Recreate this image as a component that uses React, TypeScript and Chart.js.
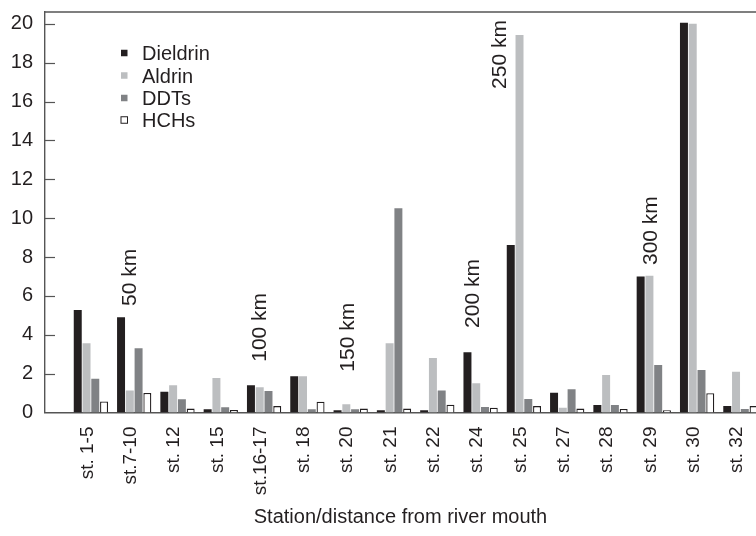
import React, { useEffect, useRef } from "react";
import { Chart, registerables } from "chart.js";

Chart.register(...registerables);

const stations = ["st. 1-5", "st.7-10", "st. 12", "st. 15", "st.16-17", "st. 18", "st. 20", "st. 21", "st. 22", "st. 24", "st. 25", "st. 27", "st. 28", "st. 29", "st. 30", "st. 32"];
const dieldrin = [5.27, 4.9, 1.07, 0.17, 1.4, 1.87, 0.12, 0.12, 0.12, 3.1, 8.62, 1.02, 0.38, 7.0, 20.06, 0.33];
const aldrin = [3.57, 1.13, 1.4, 1.77, 1.3, 1.87, 0.43, 3.57, 2.8, 1.5, 19.43, 0.25, 1.93, 7.04, 20.0, 2.1];
const ddts = [1.74, 3.3, 0.68, 0.27, 1.1, 0.17, 0.17, 10.51, 1.13, 0.28, 0.7, 1.2, 0.38, 2.44, 2.19, 0.18];
const hchs = [0.57, 1.0, 0.2, 0.13, 0.33, 0.55, 0.2, 0.2, 0.4, 0.25, 0.33, 0.2, 0.18, 0.12, 0.99, 0.33];
const seriesNames = ["Dieldrin", "Aldrin", "DDTs", "HCHs"];
const yTicks = [0, 2, 4, 6, 8, 10, 12, 14, 16, 18, 20];

// distance annotations: text, position along station axis, value where the text starts
const distLabels = ["50 km", "100 km", "150 km", "200 km", "250 km", "300 km"];
const distPos = [0.9, 3.9, 5.94, 8.82, 9.45, 12.93];
const distBase = [5.48, 2.61, 2.1, 4.35, 16.65, 7.59];

const INK = "#231f20";
const AXIS = "#555555";
const FONT = "'Liberation Sans', Arial, sans-serif";

const framePlugin = {
  id: "frame",
  afterDraw(chart: any) {
    const { ctx, chartArea, scales } = chart;
    const y = scales.y;
    const x = scales.x;
    ctx.save();
    ctx.strokeStyle = AXIS;
    ctx.lineWidth = 1.4;
    ctx.beginPath();
    ctx.moveTo(chartArea.left, chartArea.top);
    ctx.lineTo(chartArea.right, chartArea.top);
    ctx.stroke();
    ctx.lineWidth = 1.2;
    yTicks.forEach((v) => {
      if (v === 0) return;
      const py = Math.round(y.getPixelForValue(v)) + 0.5;
      ctx.beginPath();
      ctx.moveTo(chartArea.left, py);
      ctx.lineTo(chartArea.left + 10, py);
      ctx.stroke();
    });
    // distance annotations
    ctx.fillStyle = INK;
    ctx.font = "21px " + FONT;
    ctx.textAlign = "left";
    ctx.textBaseline = "middle";
    distLabels.forEach((t, i) => {
      const px = x.getPixelForValue(distPos[i]);
      const py = y.getPixelForValue(distBase[i]);
      ctx.save();
      ctx.translate(px, py);
      ctx.rotate(-Math.PI / 2);
      ctx.fillText(t, 0, 0);
      ctx.restore();
    });
    // legend
    const rowY = [53, 75.5, 98, 120];
    ctx.font = "20px " + FONT;
    chart.data.datasets.forEach((ds: any, i: number) => {
      const cy = rowY[i];
      ctx.fillStyle = ds.backgroundColor;
      ctx.fillRect(121, cy - 3.25, 6.5, 6.5);
      if (ds.borderWidth) {
        ctx.strokeStyle = INK;
        ctx.lineWidth = 1;
        ctx.strokeRect(121, cy - 3.25, 6.5, 6.5);
      }
      ctx.fillStyle = INK;
      ctx.fillText(ds.label, 142, cy + 1.5);
    });
    ctx.restore();
  },
};

export default function App() {
  const ref = useRef<HTMLCanvasElement>(null);
  useEffect(() => {
    if (!ref.current) return;
    const mk = (arr: number[]) => arr.map((v, i) => ({ x: i, y: v }));
    const chart = new Chart(ref.current, {
      type: "bar",
      data: {
        datasets: [
          { label: seriesNames[0], data: mk(dieldrin), backgroundColor: "#231f20", borderWidth: 0 },
          { label: seriesNames[1], data: mk(aldrin), backgroundColor: "#bcbec0", borderWidth: 0 },
          { label: seriesNames[2], data: mk(ddts), backgroundColor: "#808285", borderWidth: 0 },
          { label: seriesNames[3], data: mk(hchs), backgroundColor: "#ffffff", borderColor: INK, borderWidth: 1.3 },
        ],
      },
      options: {
        animation: false,
        responsive: false,
        maintainAspectRatio: false,
        datasets: { bar: { categoryPercentage: 0.81, barPercentage: 0.91 } },
        layout: { padding: { top: 12, right: 0, left: 0, bottom: 0 } },
        plugins: { legend: { display: false }, tooltip: { enabled: false } },
        scales: {
          x: {
            type: "linear",
            min: -1.06,
            max: 15.36,
            offset: false,
            grid: { display: false, drawTicks: false },
            border: { display: true, color: AXIS, width: 1.4 },
            afterFit: (s: any) => {
              s.height = 123.5;
              s.paddingLeft = 0;
              s.paddingRight = 0;
            },
            ticks: {
              stepSize: 1,
              includeBounds: false,
              autoSkip: false,
              minRotation: 90,
              maxRotation: 90,
              padding: 14,
              labelOffset: -3.5,
              color: INK,
              font: { family: FONT, size: 19 },
              callback: (v: any) => {
                const i = Number(v);
                return Number.isInteger(i) && i >= 0 && i < stations.length ? stations[i] : "";
              },
            },
            title: {
              display: true,
              text: "Station/distance from river mouth",
              color: INK,
              font: { family: FONT, size: 20 },
              padding: { top: 0, bottom: 7 },
            },
          },
          y: {
            min: 0,
            max: 20.61,
            grid: { display: false, drawTicks: false },
            border: { display: true, color: AXIS, width: 1.4 },
            afterFit: (s: any) => {
              s.width = 45;
              s.paddingTop = 0;
              s.paddingBottom = 0;
            },
            afterBuildTicks: (s: any) => {
              s.ticks = yTicks.map((v) => ({ value: v }));
            },
            ticks: {
              padding: 12,
              color: INK,
              font: { family: FONT, size: 20 },
            },
          },
        },
      },
      plugins: [framePlugin],
    } as any);
    return () => chart.destroy();
  }, []);
  return (
    <div style={{ position: "fixed", left: 0, top: 0, width: 756, height: 536, background: "#fff" }}>
      <canvas ref={ref} width={756} height={536} />
    </div>
  );
}
